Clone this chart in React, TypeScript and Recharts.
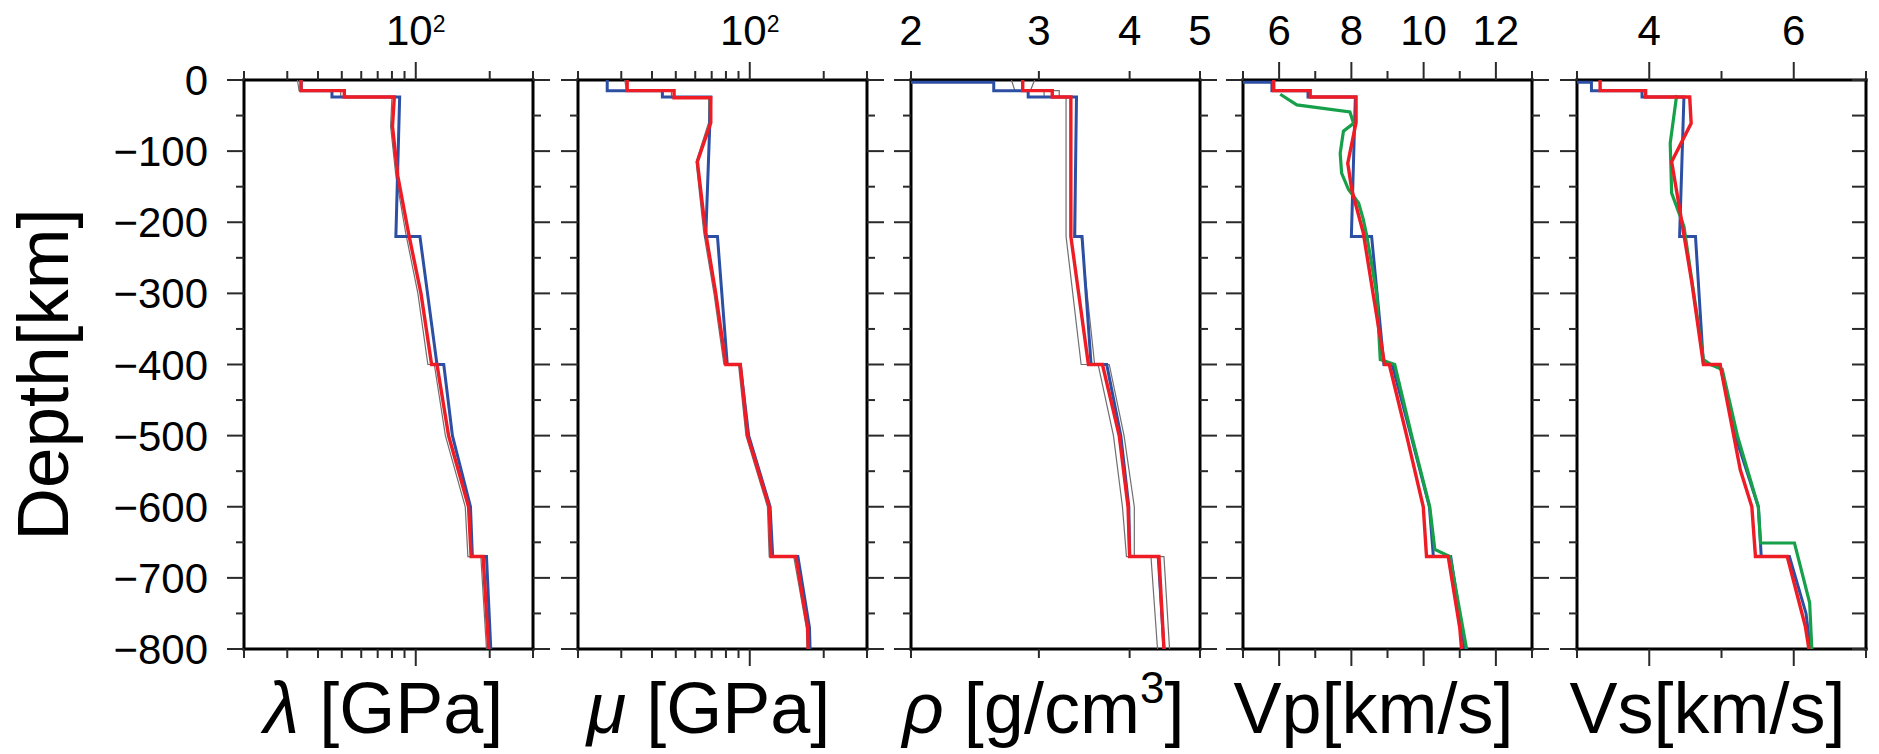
import React from 'react'
import { ScatterChart, Scatter, XAxis, YAxis } from 'recharts'

// Depth profiles of elastic parameters, 0–800 km.
// Every profile row is [depth in km (negative down), value].
type Row = [number, number]

const DEPTH_TICKS = [0, -50, -100, -150, -200, -250, -300, -350, -400, -450, -500, -550, -600, -650, -700, -750, -800]

// λ [GPa]
const lambdaRef: Row[] = [
  [0, 34.2], [-15, 34.2], [-15, 45.6], [-24, 45.6], [-24, 86], [-220, 83], [-220, 104],
  [-400, 122], [-400, 130], [-500, 141], [-600, 167], [-670, 170], [-670, 194], [-800, 202],
]
const lambdaModel: Row[] = [
  [0, 34.1], [-15, 34.1], [-15, 51.2], [-24, 51.2], [-24, 81.8], [-65, 80.4], [-135, 84.5],
  [-215, 93.4], [-300, 105], [-400, 116], [-400, 122], [-500, 136], [-600, 164], [-670, 168],
  [-670, 188], [-800, 198],
]
const lambdaAlt: Row[] = [
  [0, 33], [-15, 33.5], [-15, 49.5], [-24, 49.5], [-24, 80], [-65, 79], [-135, 83], [-215, 91],
  [-300, 102], [-400, 112], [-400, 119], [-500, 132], [-600, 159], [-670, 163], [-670, 184], [-800, 194],
]

// μ [GPa]
const muRef: Row[] = [
  [0, 26.3], [-15, 26.3], [-15, 44.1], [-24, 44.1], [-24, 69.4], [-220, 66.2], [-220, 73.9],
  [-400, 81], [-400, 91.5], [-500, 99], [-600, 121], [-670, 124], [-670, 157], [-770, 175], [-800, 176],
]
const muModel: Row[] = [
  [0, 31.7], [-15, 31.7], [-15, 49.2], [-25, 49.2], [-25, 69.4], [-60, 69.4], [-115, 61.2],
  [-215, 66.2], [-300, 72.7], [-400, 79.9], [-400, 91.5], [-500, 98], [-600, 120], [-670, 122],
  [-670, 154], [-770, 172], [-800, 173],
]
const muAlt: Row[] = [
  [0, 31], [-15, 31.5], [-15, 48], [-25, 48], [-25, 68], [-60, 68], [-115, 60.5], [-215, 65],
  [-300, 71.5], [-400, 78.5], [-400, 90], [-500, 96.5], [-600, 118], [-670, 120], [-670, 151],
  [-770, 170], [-800, 171],
]

// ρ [g/cm3]
const rhoRef: Row[] = [
  [0, 1.02], [-3, 1.02], [-3, 2.6], [-15, 2.6], [-15, 2.9], [-24, 2.9], [-24, 3.38], [-220, 3.36],
  [-220, 3.44], [-400, 3.54], [-400, 3.72], [-500, 3.89], [-600, 3.99], [-670, 4.0], [-670, 4.38], [-800, 4.46],
]
const rhoModel: Row[] = [
  [0, 2.85], [-15, 2.85], [-15, 3.13], [-24, 3.13], [-24, 3.32], [-220, 3.32], [-400, 3.51],
  [-400, 3.67], [-500, 3.87], [-600, 3.98], [-670, 4.0], [-670, 4.39], [-800, 4.46],
]
const rhoAltLow: Row[] = [
  [0, 2.75], [-15, 2.78], [-15, 3.05], [-24, 3.05], [-24, 3.27], [-220, 3.27], [-400, 3.43],
  [-400, 3.62], [-500, 3.8], [-600, 3.91], [-670, 3.96], [-670, 4.28], [-800, 4.37],
]
const rhoAltHigh: Row[] = [
  [0, 2.96], [-15, 2.92], [-15, 3.2], [-24, 3.2], [-24, 3.37], [-220, 3.37], [-220, 3.43],
  [-400, 3.58], [-400, 3.75], [-500, 3.93], [-600, 4.06], [-670, 4.06], [-670, 4.46], [-800, 4.54],
]

// Vp [km/s]
const vpRef: Row[] = [
  [0, 1.45], [-3, 1.45], [-3, 5.8], [-15, 5.8], [-15, 6.8], [-24, 6.8], [-24, 8.11], [-220, 8.0],
  [-220, 8.56], [-400, 8.9], [-400, 9.13], [-500, 9.65], [-600, 10.16], [-670, 10.27], [-670, 10.75], [-800, 11.14],
]
const vpModel: Row[] = [
  [0, 5.85], [-15, 5.85], [-15, 6.86], [-24, 6.86], [-24, 8.13], [-60, 8.13], [-117, 7.9],
  [-154, 8.01], [-215, 8.33], [-300, 8.6], [-400, 8.92], [-400, 9.05], [-500, 9.53], [-600, 9.99],
  [-670, 10.08], [-670, 10.68], [-770, 11.0], [-800, 11.05],
]
const vpTomo: Row[] = [
  [-20, 6.03], [-35, 6.49], [-45, 7.96], [-61, 8.06], [-72, 7.78], [-103, 7.69], [-131, 7.73],
  [-154, 7.92], [-173, 8.2], [-196, 8.33], [-220, 8.43], [-300, 8.7], [-393, 8.8], [-400, 9.2],
  [-500, 9.67], [-600, 10.17], [-660, 10.31], [-670, 10.73], [-735, 10.96], [-800, 11.19],
]

// Vs [km/s]
const vsRef: Row[] = [
  [0, 0], [-3, 0], [-3, 3.2], [-15, 3.2], [-15, 3.9], [-24, 3.9], [-24, 4.48], [-220, 4.42],
  [-220, 4.64], [-400, 4.75], [-400, 4.98], [-500, 5.19], [-600, 5.51], [-670, 5.55], [-670, 5.94],
  [-750, 6.17], [-800, 6.23],
]
const vsModel: Row[] = [
  [0, 3.32], [-15, 3.32], [-15, 3.95], [-24, 3.95], [-24, 4.56], [-61, 4.58], [-115, 4.31],
  [-187, 4.43], [-285, 4.59], [-400, 4.75], [-400, 4.98], [-548, 5.26], [-600, 5.42], [-670, 5.47],
  [-670, 5.91], [-768, 6.16], [-800, 6.21],
]
const vsTomo: Row[] = [
  [-21, 4.38], [-89, 4.29], [-159, 4.31], [-206, 4.48], [-393, 4.75], [-400, 4.85], [-407, 5.01],
  [-500, 5.22], [-600, 5.51], [-651, 5.54], [-651, 6.01], [-735, 6.22], [-800, 6.25],
]

const LOG_TICKS = [20, 30, 40, 50, 60, 70, 80, 90, 100, 200, 300]
const RHO_TICKS = [2, 3, 4, 5]
const VP_TICKS = [5, 6, 7, 8, 9, 10, 11, 12, 13]
const VS_TICKS = [3, 4, 5, 6, 7]

const FONT = '"Liberation Sans", Arial, Helvetica, sans-serif'
const BLUE = '#2c4fa3'
const RED = '#ee1c25'
const GREEN = '#16a04a'
const GRAY = '#6f6f6f'
const TICK = '#2a2a2a'

const PLOT_LEFTS = [244, 578, 911, 1243, 1577]
const PLOT_W = 289
const PLOT_TOP = 80
const PLOT_H = 569
const SIDE = 24
const H = 754
// axes need a non-zero size to be drawn at all; keep it at 1px and
// take it back out of the margins
const AX = 1
const LABEL_SIZE = 42

const pts = (rows: Row[]) => rows.map(([d, v]) => ({ d, v }))

const sup = (base: string, exp: string) => (
  <>
    <tspan>{base}</tspan>
    <tspan dy={-13} fontSize={23}>{exp}</tspan>
  </>
)

interface Trace { rows: Row[]; color: string; width: number }
interface Panel {
  scale: 'log' | 'linear'
  domain: [number, number]
  ticks: number[]
  labels: Record<string, React.ReactNode>
  longLabeled: boolean
  title: React.ReactNode
  titleShift: number
  traces: Trace[]
}

const greek = (ch: string) => <tspan fontStyle="italic">{ch}</tspan>

const PANELS: Panel[] = [
  {
    scale: 'log', domain: [20, 300], ticks: LOG_TICKS, labels: { 100: sup('10', '2') }, longLabeled: true,
    title: <>{greek('λ')}<tspan> [GPa]</tspan></>,
    titleShift: -5,
    traces: [
      { rows: lambdaAlt, color: GRAY, width: 1.2 },
      { rows: lambdaRef, color: BLUE, width: 3 },
      { rows: lambdaModel, color: RED, width: 3.4 },
    ],
  },
  {
    scale: 'log', domain: [20, 300], ticks: LOG_TICKS, labels: { 100: sup('10', '2') }, longLabeled: true,
    title: <>{greek('μ')}<tspan> [GPa]</tspan></>,
    titleShift: -14,
    traces: [
      { rows: muAlt, color: GRAY, width: 1.2 },
      { rows: muRef, color: BLUE, width: 3 },
      { rows: muModel, color: RED, width: 3.4 },
    ],
  },
  {
    scale: 'log', domain: [2, 5], ticks: RHO_TICKS, labels: { 2: '2', 3: '3', 4: '4', 5: '5' }, longLabeled: false,
    title: (
      <>
        {greek('ρ')}
        <tspan> [g/cm</tspan>
        <tspan dy={-30} fontSize={44}>3</tspan>
        <tspan dy={30}>]</tspan>
      </>
    ),
    titleShift: -12,
    traces: [
      { rows: rhoAltLow, color: GRAY, width: 1.2 },
      { rows: rhoAltHigh, color: GRAY, width: 1.2 },
      { rows: rhoRef, color: BLUE, width: 3 },
      { rows: rhoModel, color: RED, width: 3.4 },
    ],
  },
  {
    scale: 'linear', domain: [5, 13], ticks: VP_TICKS, labels: { 6: '6', 8: '8', 10: '10', 12: '12' }, longLabeled: true,
    title: <tspan>Vp[km/s]</tspan>,
    titleShift: -14,
    traces: [
      { rows: vpRef, color: BLUE, width: 3 },
      { rows: vpTomo, color: GREEN, width: 3.2 },
      { rows: vpModel, color: RED, width: 3.4 },
    ],
  },
  {
    scale: 'linear', domain: [3, 7], ticks: VS_TICKS, labels: { 4: '4', 6: '6' }, longLabeled: true,
    title: <tspan>Vs[km/s]</tspan>,
    titleShift: -14,
    traces: [
      { rows: vsRef, color: BLUE, width: 3 },
      { rows: vsTomo, color: GREEN, width: 3.2 },
      { rows: vsModel, color: RED, width: 3.4 },
    ],
  },
]

const fmtDepth = (v: number) => (v === 0 ? '0' : `\u2212${Math.abs(v)}`)

// tick renderers: the axes get tickSize 0, so (x, y) sits on the frame line
const leftTick = (withLabels: boolean) => (p: any) => {
  const major = p.payload.value % 100 === 0
  const len = major ? 17 : 8
  return (
    <g>
      <line x1={p.x} y1={p.y} x2={p.x - len} y2={p.y} stroke={TICK} strokeWidth={2} />
      {withLabels && major && (
        <text x={p.x - 36} y={p.y} dy={15} textAnchor="end" fontSize={LABEL_SIZE} fontFamily={FONT} fill="#000">
          {fmtDepth(p.payload.value)}
        </text>
      )}
    </g>
  )
}

const rightTick = (inward: boolean) => (p: any) => {
  const major = p.payload.value % 100 === 0
  const len = inward ? -14 : major ? 17 : 8
  return <line x1={p.x} y1={p.y} x2={p.x + len} y2={p.y} stroke={TICK} strokeWidth={2} />
}

const topTick = (panel: Panel) => (p: any) => {
  const label = panel.labels[String(p.payload.value)]
  const len = label && panel.longLabeled ? 18 : 9
  return (
    <g>
      <line x1={p.x} y1={p.y} x2={p.x} y2={p.y - len} stroke={TICK} strokeWidth={2} />
      {label && (
        <text x={p.x} y={p.y - 35} textAnchor="middle" fontSize={LABEL_SIZE} fontFamily={FONT} fill="#000">
          {label}
        </text>
      )}
    </g>
  )
}

const bottomTick = (panel: Panel) => (p: any) => {
  const label = panel.labels[String(p.payload.value)]
  const len = label && panel.longLabeled ? 17 : 9
  return <line x1={p.x} y1={p.y} x2={p.x} y2={p.y + len} stroke={TICK} strokeWidth={2} />
}

const frame = { stroke: '#000', strokeWidth: 3, strokeLinecap: 'square' as const }

function ProfilePanel({ panel, index }: { panel: Panel; index: number }) {
  const first = index === 0
  const last = index === PANELS.length - 1
  const plotLeft = first ? PLOT_LEFTS[0] : SIDE
  const left = first ? 0 : PLOT_LEFTS[index] - SIDE
  const width = plotLeft + PLOT_W + SIDE

  return (
    <div style={{ position: 'absolute', left, top: 0, width, height: H }}>
      <ScatterChart
        width={width}
        height={H}
        margin={{
          top: PLOT_TOP - AX,
          bottom: H - PLOT_TOP - PLOT_H - AX,
          left: plotLeft - AX,
          right: SIDE - AX,
        }}
      >
        <XAxis
          xAxisId="top"
          orientation="top"
          type="number"
          dataKey="v"
          scale={panel.scale}
          domain={panel.domain}
          allowDataOverflow
          ticks={panel.ticks}
          interval={0}
          height={AX}
          tickSize={0}
          tickMargin={0}
          tickLine={false}
          axisLine={frame}
          tick={topTick(panel)}
        />
        <XAxis
          xAxisId="bottom"
          orientation="bottom"
          type="number"
          dataKey="v"
          scale={panel.scale}
          domain={panel.domain}
          allowDataOverflow
          ticks={panel.ticks}
          interval={0}
          height={AX}
          tickSize={0}
          tickMargin={0}
          tickLine={false}
          axisLine={frame}
          tick={bottomTick(panel)}
          label={{
            content: (lp: any) => {
              const vb = lp.viewBox
              return (
                <text
                  x={vb.x + vb.width / 2 + panel.titleShift}
                  y={vb.y + 84}
                  textAnchor="middle"
                  fontSize={72}
                  fontFamily={FONT}
                  fill="#000"
                >
                  {panel.title}
                </text>
              )
            },
          }}
        />
        <YAxis
          yAxisId="left"
          orientation="left"
          type="number"
          dataKey="d"
          domain={[-800, 0]}
          allowDataOverflow
          ticks={DEPTH_TICKS}
          interval={0}
          width={AX}
          tickSize={0}
          tickMargin={0}
          tickLine={false}
          axisLine={frame}
          tick={leftTick(first)}
          label={
            first
              ? {
                  content: (lp: any) => {
                    const vb = lp.viewBox
                    const cx = vb.x + vb.width - 176
                    const cy = vb.y + vb.height / 2 + 10
                    return (
                      <text
                        x={cx}
                        y={cy}
                        transform={`rotate(-90 ${cx} ${cy})`}
                        textAnchor="middle"
                        fontSize={73}
                        fontFamily={FONT}
                        fill="#000"
                      >
                        Depth[km]
                      </text>
                    )
                  },
                }
              : undefined
          }
        />
        <YAxis
          yAxisId="right"
          orientation="right"
          type="number"
          dataKey="d"
          domain={[-800, 0]}
          allowDataOverflow
          ticks={DEPTH_TICKS}
          interval={0}
          width={AX}
          tickSize={0}
          tickMargin={0}
          tickLine={false}
          axisLine={frame}
          tick={rightTick(last)}
        />
        {panel.traces.map((t, i) => (
          <Scatter
            key={i}
            xAxisId="top"
            yAxisId="left"
            data={pts(t.rows)}
            line={{ stroke: t.color, strokeWidth: t.width, strokeLinejoin: 'miter' }}
            lineType="joint"
            shape={() => <g />}
            legendType="none"
            isAnimationActive={false}
          />
        ))}
      </ScatterChart>
    </div>
  )
}

export default function App() {
  return (
    <div style={{ position: 'absolute', left: 0, top: 0, width: 1879, height: H, background: '#fff', overflow: 'hidden' }}>
      {PANELS.map((p, i) => (
        <ProfilePanel key={i} panel={p} index={i} />
      ))}
    </div>
  )
}
